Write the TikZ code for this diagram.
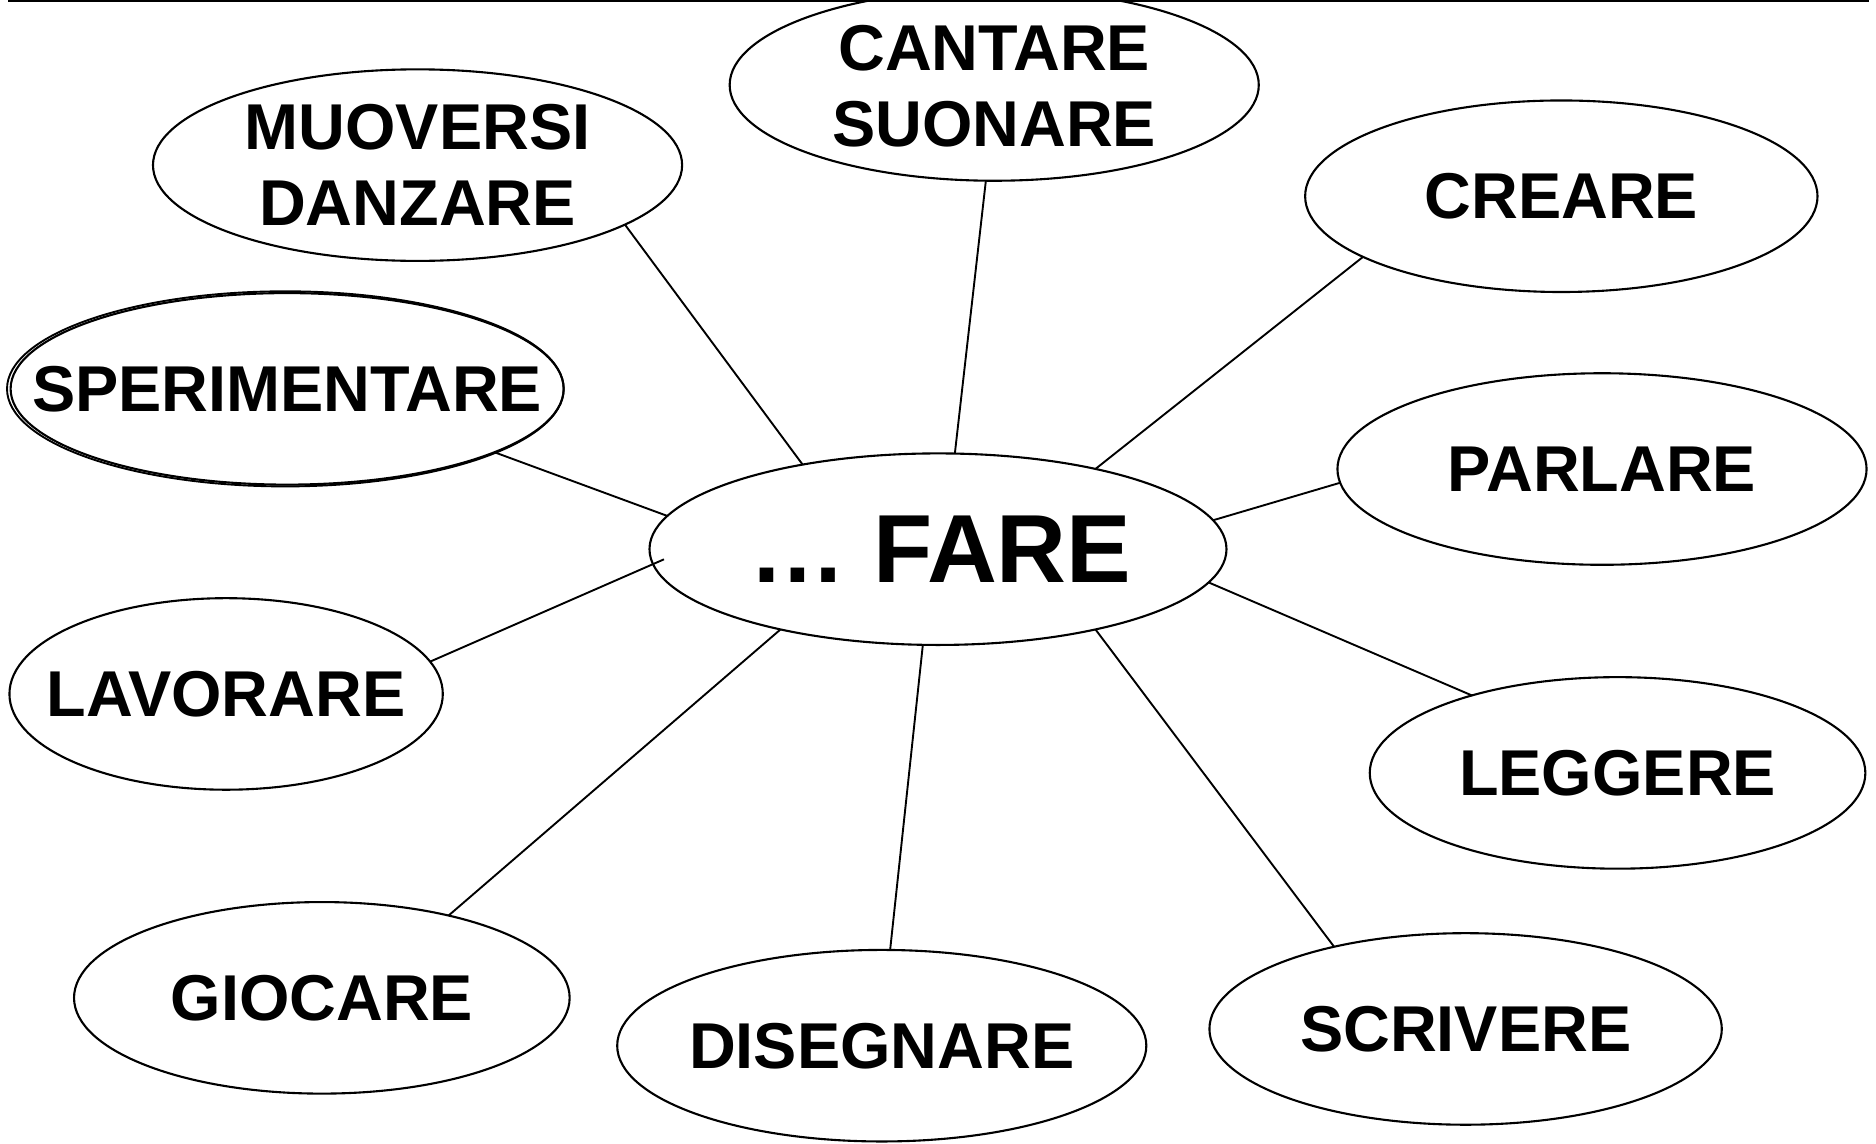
\documentclass[tikz,border=0pt]{standalone}
\usepackage{fontspec}
\setmainfont{Liberation Sans}
\usetikzlibrary{shapes.geometric}
\begin{document}
\begin{tikzpicture}[x=0.01cm,y=-0.01cm,
  bub/.style={draw, ellipse, line width=0.5pt, inner sep=0pt, outer sep=0pt, minimum height=1.6cm},
  txt/.style={inner sep=0pt, font=\fontsize{15.4}{18}\selectfont\bfseries, align=center},
  link/.style={line width=0.45pt}]
\useasboundingbox (0,0) rectangle (1568,956);
\clip (0,0) rectangle (1568,956);
\draw[line width=0.7pt] (7,0.6) -- (1562,0.6);
% bubbles
\node[bub, minimum width=4.42cm] (cant) at (831,71) {};
\node[bub, minimum width=4.42cm] (muov) at (349,138) {};
\node[bub, minimum width=4.28cm] (crea) at (1305,164) {};
\node[bub, minimum width=4.62cm] (sper) at (240,325) {};
\draw[line width=0.45pt] (238.5,325) ellipse [x radius=2.325cm, y radius=0.815cm];
\node[bub, minimum width=4.42cm] (parl) at (1339,392) {};
\node[bub, minimum width=4.82cm] (fare) at (784,459) {};
\node[bub, minimum width=3.62cm] (lavo) at (189,580) {};
\node[bub, minimum width=4.14cm] (legg) at (1352,646) {};
\node[bub, minimum width=4.14cm] (gioc) at (269,834) {};
\node[bub, minimum width=4.42cm] (dise) at (737,874) {};
\node[bub, minimum width=4.28cm] (scri) at (1225,860) {};
% texts
\node[txt] (cant-t) at ([yshift=-0.01cm]cant.center) {CANTARE\\SUONARE};
\node[txt] (muov-t) at (muov) {MUOVERSI\\DANZARE};
\node[txt] (crea-t) at (crea) {CREARE};
\node[txt] (sper-t) at (sper) {SPERIMENTARE};
\node[txt] (parl-t) at (parl) {PARLARE};
\node[txt, font=\fontsize{23}{27}\selectfont\bfseries] (fare-t) at ([xshift=0.02cm]fare.center) {… FARE};
\node[txt] (lavo-t) at (lavo) {LAVORARE};
\node[txt] (legg-t) at (legg) {LEGGERE};
\node[txt] (gioc-t) at (gioc) {GIOCARE};
\node[txt] (dise-t) at (dise) {DISEGNARE};
\node[txt] (scri-t) at (scri) {SCRIVERE};
% connectors
\draw[link] (muov.-16) -- (fare.148);
\draw[link] (cant.-95) -- (fare.80);
\draw[link] (crea.197) -- (fare.27);
\draw[link] (sper.-17.5) -- (fare.173);
\draw[link] (parl.183.6) -- (fare.6.75);
\draw[link, shorten >=-0.1cm] (lavo.9.5) -- (fare.183.5);
\draw[link] (legg.152) -- (fare.-7);
\draw[link] (gioc.33.6) -- (fare.-153);
\draw[link] (dise.85) -- (fare.-99);
\draw[link] (scri.148.3) -- (fare.-27);
\end{tikzpicture}
\end{document}
